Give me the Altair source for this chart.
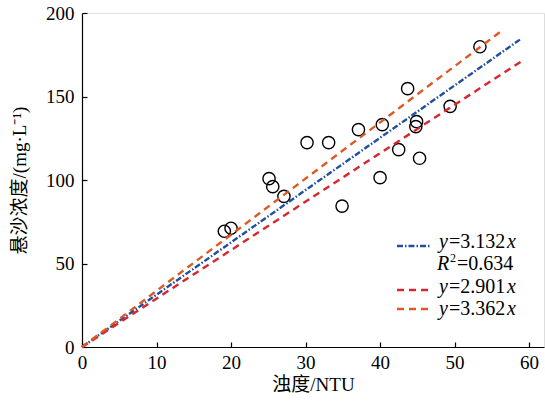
import altair as alt
import pandas as pd

# ---- data ----
turbidity = [19.1, 20.0, 25.1, 25.6, 27.1, 30.2, 33.1, 34.9, 37.1, 40.0, 40.3,
             42.5, 43.7, 44.9, 44.8, 45.3, 49.4, 53.4]
ssc = [69.3, 71.1, 100.8, 96.0, 90.2, 122.4, 122.4, 84.4, 130.2, 101.4, 133.2,
       118.2, 154.7, 135.0, 132.0, 113.0, 144.1, 179.8]

fit_names = ["fit", "lower", "upper"]
fit_slopes = [3.132, 2.901, 3.362]
fit_xend = [59.0, 59.0, 56.6]
fit_colors = ["#1f4f9e", "#d8262e", "#dd5a26"]
fit_dash = [[6, 2, 1.5, 2], [7, 5], [7, 5]]

x_ticks = [0, 10, 20, 30, 40, 50, 60]
y_ticks = [0, 50, 100, 150, 200]

W, H = 462, 334
SERIF = "'Liberation Serif', 'Noto Sans CJK SC', serif"
FS = 19

pts = pd.DataFrame({"t": turbidity, "s": ssc})
xs = alt.Scale(domain=[0, 62], nice=False)
ys = alt.Scale(domain=[0, 200], nice=False)

points = alt.Chart(pts).mark_point(
    shape="circle", filled=False, color="black", size=150, strokeWidth=1.4, opacity=1
).encode(
    x=alt.X("t:Q", scale=xs, axis=alt.Axis(
        values=x_ticks, title="浊度/NTU", ticks=False, tickSize=0, grid=False,
        domainColor="black", domainWidth=1.2, labelPadding=6, titlePadding=3,
        labelFontSize=FS, titleFontSize=FS, labelFont=SERIF, titleFont=SERIF,
        labelColor="black", titleColor="black", titleFontWeight="normal",
        labelFlush=False)),
    y=alt.Y("s:Q", scale=ys, axis=alt.Axis(
        values=y_ticks, title="悬沙浓度/(mg·L⁻¹)", ticks=False, tickSize=0, grid=False,
        domainColor="black", domainWidth=1.2, labelPadding=8, titlePadding=16,
        labelFontSize=FS, titleFontSize=FS, labelFont=SERIF, titleFont=SERIF,
        labelColor="black", titleColor="black", titleFontWeight="normal",
        labelFlush=False)),
)

layers = [points]
for name, k, xe, col, dash in zip(fit_names, fit_slopes, fit_xend, fit_colors, fit_dash):
    d = pd.DataFrame({"t": [0.0, xe], "s": [0.0, k * xe]})
    ln = alt.Chart(d).mark_line(color=col, strokeWidth=2.4, strokeDash=dash).encode(
        x=alt.X("t:Q", scale=xs, axis=None),
        y=alt.Y("s:Q", scale=ys, axis=None),
    )
    layers.append(ln)

# inward ticks: extra axes placed on the opposite side with negative offset
tick_df = pd.DataFrame({"t": [0.0], "s": [0.0]})
ticks_layer = alt.Chart(tick_df).mark_point(opacity=0).encode(
    x=alt.X("t:Q", scale=xs, axis=alt.Axis(
        orient="top", offset=-H, values=x_ticks, labels=False, domain=False,
        ticks=True, tickSize=5, tickColor="black", tickWidth=1.2, grid=False, title=None)),
    y=alt.Y("s:Q", scale=ys, axis=alt.Axis(
        orient="right", offset=-W, values=y_ticks, labels=False, domain=False,
        ticks=True, tickSize=5, tickColor="black", tickWidth=1.2, grid=False, title=None)),
)
layers.append(ticks_layer)

# ---- custom legend ----
LFS = 20
leg_line_y = [233, 277, 296]
leg_base_y = [235, 280, 302]
leg_nums = ["=3.132", "=2.901", "=3.362"]
for i in range(3):
    seg = alt.Chart(tick_df).mark_rule(
        color=fit_colors[i], strokeWidth=2.4, strokeDash=fit_dash[i]
    ).encode(x=alt.value(315), x2=alt.value(348), y=alt.value(leg_line_y[i]))
    layers.append(seg)
    common = dict(font=SERIF, fontSize=LFS, color="black", align="left", baseline="alphabetic")
    layers.append(alt.Chart(tick_df).mark_text(fontStyle="italic", **common).encode(
        x=alt.value(357), y=alt.value(leg_base_y[i]), text=alt.value("y")))
    layers.append(alt.Chart(tick_df).mark_text(**common).encode(
        x=alt.value(367), y=alt.value(leg_base_y[i]), text=alt.value(leg_nums[i])))
    layers.append(alt.Chart(tick_df).mark_text(fontStyle="italic", **common).encode(
        x=alt.value(425), y=alt.value(leg_base_y[i]), text=alt.value("x")))

common = dict(font=SERIF, color="black", align="left", baseline="alphabetic")
layers.append(alt.Chart(tick_df).mark_text(fontStyle="italic", fontSize=LFS, **common).encode(
    x=alt.value(355), y=alt.value(257), text=alt.value("R")))
layers.append(alt.Chart(tick_df).mark_text(fontSize=12, **common).encode(
    x=alt.value(368), y=alt.value(249), text=alt.value("2")))
layers.append(alt.Chart(tick_df).mark_text(fontSize=LFS, **common).encode(
    x=alt.value(375), y=alt.value(257), text=alt.value("=0.634")))

chart = alt.layer(*layers).resolve_axis(x="independent", y="independent").properties(
    width=W, height=H,
    autosize=alt.AutoSizeParams(type="none"),
    padding={"left": 82, "top": 13, "right": 1, "bottom": 59},
).configure_view(stroke=None).configure(background="white")

chart.save("out.html", embed_options={"renderer": "svg", "actions": False})
